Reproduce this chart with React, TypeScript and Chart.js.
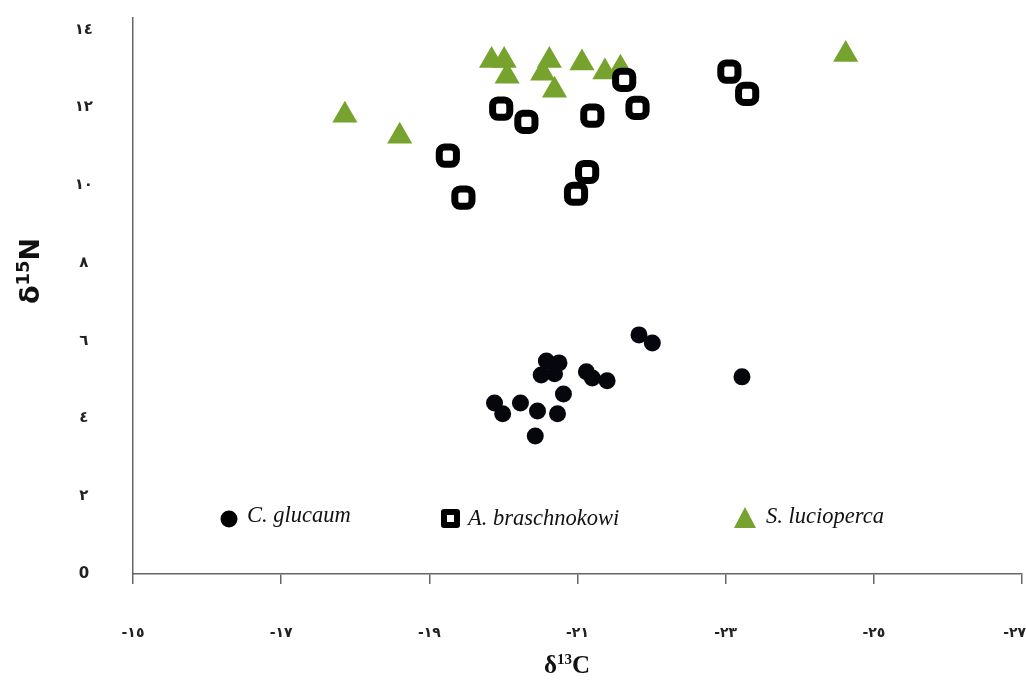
import { useEffect, useRef } from 'react';
import { Chart, registerables } from 'chart.js';

Chart.register(...registerables);

const xTickValues = [-15, -17, -19, -21, -23, -25, -27];
const yTickValues = [0, 2, 4, 6, 8, 10, 12, 14];

const seriesNames = ['C. glucaum', 'A. braschnokowi', 'S. lucioperca'];

const glaucumX = [-19.88, -19.99, -20.23, -20.46, -20.43, -20.73, -20.81, -20.58, -20.75, -20.51, -20.69, -21.12, -21.2, -21.4, -21.83, -22.01, -23.22];
const glaucumY = [4.4, 4.12, 4.4, 4.19, 3.55, 4.12, 4.63, 5.48, 5.43, 5.12, 5.15, 5.2, 5.04, 4.97, 6.15, 5.94, 5.07];

const braschX = [-19.25, -19.46, -19.97, -20.31, -20.98, -21.13, -21.2, -21.63, -21.81, -23.05, -23.29];
const braschY = [10.76, 9.68, 11.97, 11.63, 9.78, 10.34, 11.79, 12.71, 11.99, 12.92, 12.35];

const lucioX = [-17.86, -18.6, -19.84, -20.01, -20.05, -20.62, -20.53, -20.69, -21.06, -21.37, -21.58, -24.62];
const lucioY = [11.8, 11.26, 13.21, 13.21, 12.8, 13.21, 12.88, 12.44, 13.14, 12.91, 13.01, 13.36];

const GREEN = '#76a22e';

const toArabic = (n: number) =>
  String(n).replace(/[0-9]/g, (d) => '٠١٢٣٤٥٦٧٨٩'[Number(d)]);

const zip = (xs: number[], ys: number[]) => xs.map((x, i) => ({ x, y: ys[i] }));

const labelsPlugin = {
  id: 'customLabels',
  afterDraw(chart: any) {
    const ctx = chart.ctx as CanvasRenderingContext2D;
    ctx.save();
    // Y axis title: δ15N rotated
    ctx.translate(29, 271);
    ctx.rotate(-Math.PI / 2);
    ctx.fillStyle = '#111';
    ctx.textBaseline = 'alphabetic';
    ctx.textAlign = 'left';
    const big = 'bold 27px "DejaVu Sans", sans-serif';
    const small = 'bold 18px "DejaVu Sans", sans-serif';
    ctx.font = big;
    const wD = ctx.measureText('δ').width;
    const wN = ctx.measureText('N').width;
    ctx.font = small;
    const w15 = ctx.measureText('15').width;
    const total = wD + w15 + wN;
    let x = -total / 2;
    ctx.font = big;
    ctx.fillText('δ', x, 10);
    x += wD;
    ctx.font = small;
    ctx.fillText('15', x, 0);
    x += w15;
    ctx.font = big;
    ctx.fillText('N', x, 10);
    ctx.restore();

    // X axis title: δ13C
    ctx.save();
    ctx.fillStyle = '#111';
    const bigS = 'bold 25px "Liberation Serif", serif';
    const smallS = 'bold 15px "Liberation Serif", serif';
    ctx.font = bigS;
    const a = ctx.measureText('δ').width;
    const c = ctx.measureText('C').width;
    ctx.font = smallS;
    const b = ctx.measureText('13').width;
    let xx = 567 - (a + b + c) / 2;
    const base = 673;
    ctx.font = bigS;
    ctx.fillText('δ', xx, base);
    xx += a;
    ctx.font = smallS;
    ctx.fillText('13', xx, base - 9);
    xx += b;
    ctx.font = bigS;
    ctx.fillText('C', xx, base);
    ctx.restore();

    // Legend
    ctx.save();
    ctx.font = 'italic 22.5px "Liberation Serif", serif';
    ctx.textBaseline = 'middle';
    ctx.beginPath();
    ctx.arc(229, 519, 8.5, 0, Math.PI * 2);
    ctx.fillStyle = '#000';
    ctx.fill();
    ctx.fillStyle = '#111';
    ctx.fillText(seriesNames[0], 247, 516);
    ctx.lineWidth = 6;
    ctx.strokeStyle = '#000';
    ctx.lineJoin = 'round';
    ctx.fillStyle = '#fff';
    ctx.beginPath();
    ctx.rect(444, 512, 13, 13);
    ctx.fill();
    ctx.stroke();
    ctx.fillStyle = '#111';
    ctx.fillText(seriesNames[1], 468, 519);
    ctx.beginPath();
    ctx.moveTo(745, 507);
    ctx.lineTo(756, 528);
    ctx.lineTo(734, 528);
    ctx.closePath();
    ctx.fillStyle = GREEN;
    ctx.fill();
    ctx.fillStyle = '#111';
    ctx.fillText(seriesNames[2], 766, 517);
    ctx.restore();
  },
};

export default function App() {
  const ref = useRef<HTMLCanvasElement | null>(null);
  useEffect(() => {
    if (!ref.current) return;
    const chart = new Chart(ref.current, {
      type: 'scatter',
      data: {
        datasets: [
          {
            label: seriesNames[0],
            data: zip(glaucumX, glaucumY),
            pointStyle: 'circle',
            pointRadius: 8.5,
            pointHoverRadius: 8.5,
            backgroundColor: '#05070d',
            borderColor: '#05070d',
            borderWidth: 0,
          },
          {
            label: seriesNames[1],
            data: zip(braschX, braschY),
            pointStyle: 'rectRounded',
            pointRadius: 10,
            pointHoverRadius: 10,
            backgroundColor: '#ffffff',
            borderColor: '#000000',
            borderWidth: 7,
          },
          {
            label: seriesNames[2],
            data: zip(lucioX, lucioY),
            pointStyle: 'triangle',
            pointRadius: 14.5,
            pointHoverRadius: 14.5,
            backgroundColor: GREEN,
            borderColor: GREEN,
            borderWidth: 0,
          },
        ],
      },
      options: {
        animation: false,
        responsive: true,
        maintainAspectRatio: false,
        layout: { autoPadding: false, padding: { top: 18, right: 4, left: 0, bottom: 0 } },
        plugins: {
          legend: { display: false },
          tooltip: { enabled: false },
        },
        scales: {
          x: {
            type: 'linear',
            min: -27,
            max: -15,
            reverse: true,
            afterBuildTicks: (s: any) => {
              s.ticks = xTickValues.map((v) => ({ value: v }));
            },
            afterFit: (s: any) => {
              s.height = 109;
              s.paddingLeft = 0;
              s.paddingRight = 0;
            },
            grid: {
              display: true,
              drawOnChartArea: false,
              drawTicks: true,
              tickLength: 10,
              color: '#666',
              lineWidth: 1.5,
            },
            border: { display: true, color: '#666', width: 1.5 },
            ticks: {
              padding: 41,
              maxRotation: 0,
              autoSkip: false,
              color: '#222',
              font: { family: '"DejaVu Sans", sans-serif', size: 14, weight: 'bold' },
              callback: (v: any) => {
                const label = '-' + toArabic(Math.abs(Number(v)));
                return Number(v) === -27 ? label + '\u00a0\u00a0\u00a0' : label;
              },
            },
          },
          y: {
            type: 'linear',
            min: 0,
            max: 14.3,
            afterBuildTicks: (s: any) => {
              s.ticks = yTickValues.map((v) => ({ value: v }));
            },
            afterFit: (s: any) => {
              s.width = 133;
              s.paddingTop = 0;
              s.paddingBottom = 0;
            },
            grid: { display: false, drawTicks: false },
            border: { display: true, color: '#666', width: 1.5 },
            ticks: {
              padding: 40,
              crossAlign: 'center',
              color: '#222',
              font: { family: '"DejaVu Sans", sans-serif', size: 15, weight: 'bold' },
              callback: (v: any) => (Number(v) === 0 ? '0' : toArabic(Number(v))),
            },
          },
        },
      },
      plugins: [labelsPlugin],
    } as any);
    return () => chart.destroy();
  }, []);
  return (
    <div style={{ position: 'fixed', left: 0, top: 0, width: 1026, height: 683, background: '#fff' }}>
      <canvas ref={ref} />
    </div>
  );
}
